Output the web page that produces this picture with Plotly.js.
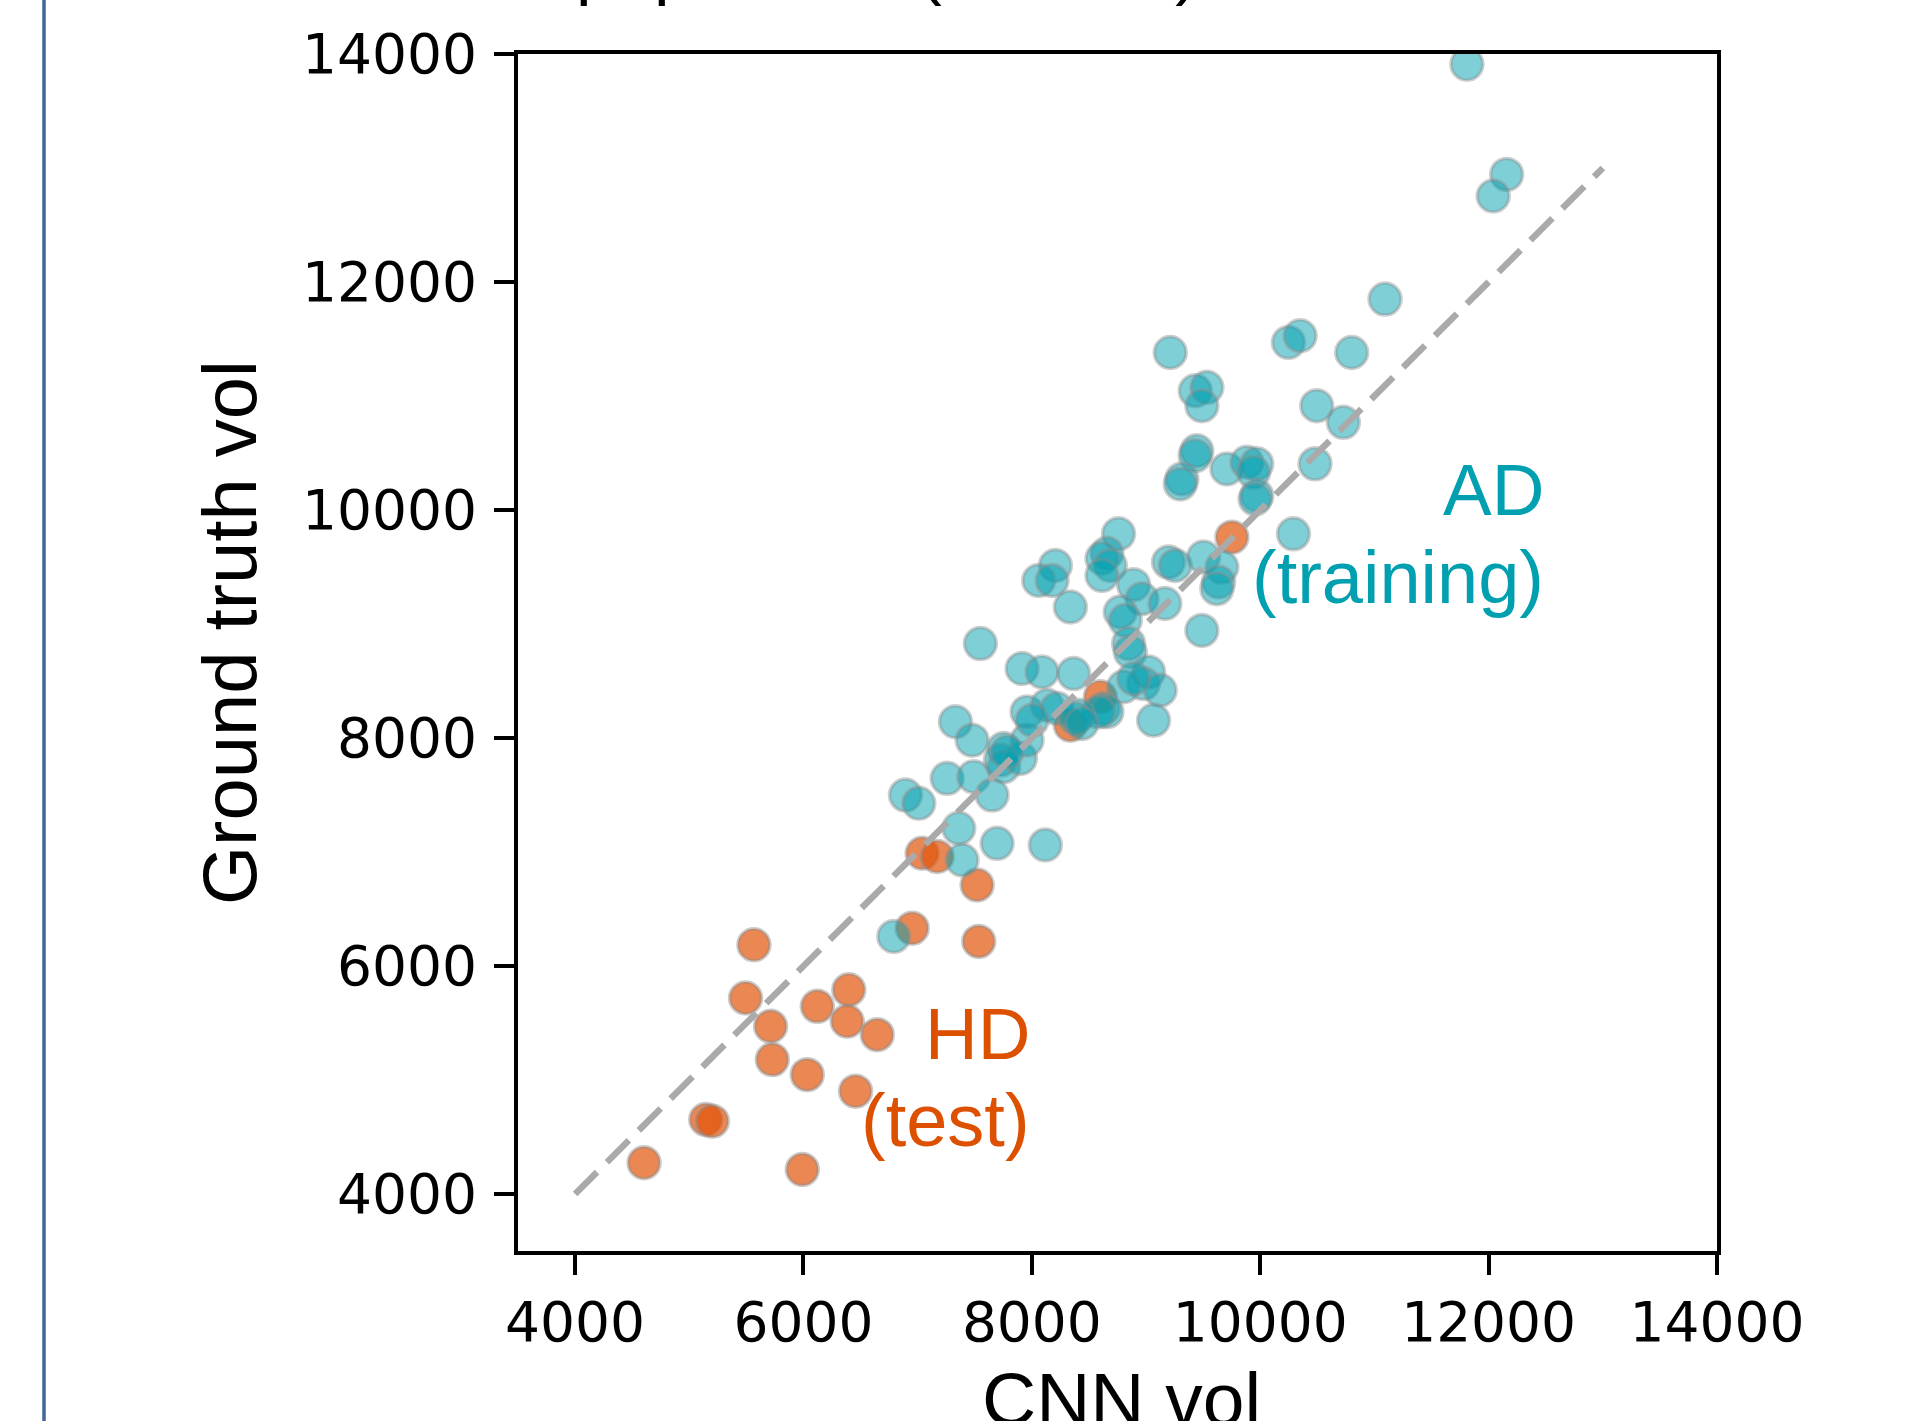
<!DOCTYPE html>
<html>
<head>
<meta charset="utf-8">
<script src="https://cdn.plot.ly/plotly-3.0.1.min.js"></script>
<style>html,body{margin:0;padding:0;background:#fff;}#chart{width:1908px;height:1421px;}</style>
</head>
<body>
<div id="chart"></div>
<script>
// AD (training) set: CNN volume vs ground-truth volume
const adCNN = [11810,12158,12040,11093,10247,10349,9212,10801,9431,9533,9489,10495,10728,9445,9430,9314,9300,9708,9883,9970,9941,9970,9955,10480,10291,8759,9197,9255,9503,9664,9635,9620,8206,8060,8177,8658,8614,8687,8614,8891,8964,8337,9165,8774,8818,8847,8862,7549,9489,7914,8089,8366,9022,8978,9124,8803,9066,8891,8628,8658,8585,7331,7477,7258,7491,6893,7010,7652,7753,7725,7753,7900,7958,7958,8133,8221,8410,8002,8381,8439,7360,7696,8118,7389,6791,7783];
const adGT  = [13910,12944,12754,11850,11470,11528,11382,11382,11046,11076,10915,10915,10769,10520,10477,10273,10229,10360,10419,10405,10331,10126,10097,10405,9791,9791,9543,9513,9587,9499,9368,9310,9513,9382,9382,9620,9577,9513,9426,9345,9222,9149,9180,9105,9032,8828,8755,8828,8944,8609,8580,8565,8580,8477,8419,8449,8156,8521,8259,8230,8229,8142,7981,7646,7660,7499,7427,7499,7908,7806,7748,7821,7981,8229,8287,8259,8200,8156,8171,8127,7208,7076,7061,6930,6259,7879];
// HD (test) set
const hdCNN = [9752,8600,8337,7039,7171,7521,6952,7535,5566,5493,5712,5727,6121,6397,6383,6646,6033,6456,5144,5202,4604,5990];
const hdGT  = [9762,8361,8112,6989,6960,6711,6332,6216,6186,5719,5471,5179,5646,5792,5515,5398,5047,4902,4653,4639,4274,4215];
// identity reference line
const idX = [4000,13000];
const idY = [4000,13000];
const axTicks = [4000,6000,8000,10000,12000,14000];
const axTickText = ['4000','6000','8000','10000','12000','14000'];

const hdTrace = {
  x: hdCNN, y: hdGT, type:'scatter', mode:'markers', name:'HD (test)',
  marker:{size:32, color:'rgba(226,84,10,0.7)', line:{color:'rgba(140,140,140,0.45)', width:3.5}},
  hoverinfo:'skip'
};
const adTrace = {
  x: adCNN, y: adGT, type:'scatter', mode:'markers', name:'AD (training)',
  marker:{size:32, color:'rgba(0,160,176,0.5)', line:{color:'rgba(140,140,140,0.42)', width:3.5}},
  hoverinfo:'skip'
};
const idTrace = {
  x: idX, y: idY, type:'scatter', mode:'lines', name:'identity',
  line:{color:'#aaaaaa', width:6.5, dash:'31px,14px'}, hoverinfo:'skip'
};

const tickFont = {family:'DejaVu Sans', size:55, color:'#000'};

const layout = {
  width:1908, height:1421,
  margin:{l:518, r:191, t:54, b:170, pad:0},
  paper_bgcolor:'#fff', plot_bgcolor:'#fff',
  showlegend:false,
  xaxis:{
    range:[3500,14000], tickmode:'array', tickvals:axTicks, ticktext:axTickText,
    showgrid:false, zeroline:false, showline:true, linecolor:'#000', linewidth:4, mirror:true,
    ticks:'outside', ticklen:20, tickwidth:4, tickcolor:'#000', tickfont:tickFont,
    title:{text:''}
  },
  yaxis:{
    range:[3500,14000], tickmode:'array', tickvals:axTicks, ticktext:axTickText,
    showgrid:false, zeroline:false, showline:true, linecolor:'#000', linewidth:4, mirror:true,
    ticks:'outside', ticklen:20, tickwidth:4, tickcolor:'#000', tickfont:tickFont,
    ticklabelstandoff:6,
    title:{text:''}
  },
  annotations:[
    {x:(229-518)/1199, y:(1251-633)/1197, xref:'paper', yref:'paper', text:'Ground truth vol', textangle:-90,
     showarrow:false, xanchor:'center', yanchor:'middle', font:{family:'Liberation Sans, Arial', size:76, color:'#000'}},
    {x:(1121-518)/1199, y:(1251-1399)/1197, xref:'paper', yref:'paper', text:'CNN vol',
     showarrow:false, xanchor:'center', yanchor:'middle', font:{family:'Liberation Sans, Arial', size:75, color:'#000'}},
    {x:12500, y:10176, xref:'x', yref:'y', text:'AD', showarrow:false, xanchor:'right', yanchor:'middle',
     font:{family:'Liberation Sans, Arial', size:73, color:'#00a0b0'}},
    {x:12500, y:9406, xref:'x', yref:'y', text:'(training)', showarrow:false, xanchor:'right', yanchor:'middle',
     font:{family:'Liberation Sans, Arial', size:74, color:'#00a0b0'}},
    {x:8004, y:5404, xref:'x', yref:'y', text:'HD', showarrow:false, xanchor:'right', yanchor:'middle',
     font:{family:'Liberation Sans, Arial', size:73, color:'#dc5000'}},
    {x:8004, y:4642, xref:'x', yref:'y', text:'(test)', showarrow:false, xanchor:'right', yanchor:'middle',
     font:{family:'Liberation Sans, Arial', size:74, color:'#dc5000'}},
    {x:(368-518)/1199, y:(1251-8)/1197, xref:'paper', yref:'paper', text:'Cross-population (HD test)', showarrow:false,
     xanchor:'left', yanchor:'bottom', font:{family:'Liberation Sans, Arial', size:70, color:'#000'}}
  ],
  shapes:[
    {type:'line', xref:'paper', yref:'paper', x0:(44-518)/1199, x1:(44-518)/1199, y0:-0.3, y1:1.2,
     line:{color:'#3f6894', width:3.5}}
  ]
};

Plotly.newPlot('chart', [hdTrace, adTrace, idTrace], layout, {displayModeBar:false, staticPlot:true});
</script>
</body>
</html>
